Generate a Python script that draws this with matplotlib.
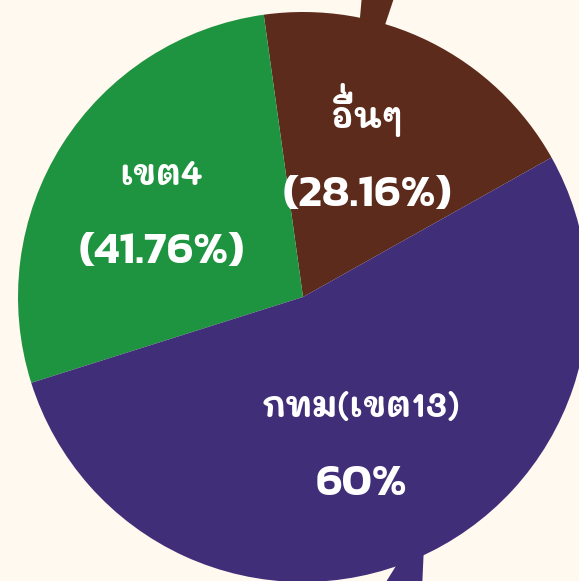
import matplotlib
matplotlib.use("Agg")
import numpy as np
import matplotlib.pyplot as plt
from matplotlib.patches import Polygon

names = ["อื่นๆ", "เขต4", "กทม(เขต13)"]
shown = ["(28.16%)", "(41.76%)", "60%"]
shares = [19.06, 27.67, 53.27]
colors = ["#5C2B1B", "#1F9440", "#412E78"]
bg = "#FFF9F0"
thai_font = ["Mali", "DejaVu Sans"]
num_font = ["Kanit", "DejaVu Sans"]

R = 285  # pie radius in pixels
fig = plt.figure(figsize=(5.79, 5.81), dpi=100, facecolor=bg)
ax = fig.add_axes([0, 0, 1, 1])
ax.set_facecolor(bg)

# pointer tails behind the pie (pixel coords from centre)
top_tail = [(59, 302), (92, 302), (77, 257), (55, 257)]
bot_tail = [(106, -248), (121, -248), (119, -293), (78, -293)]
ax.add_patch(Polygon(top_tail, closed=True, color=colors[0], lw=0, zorder=0))
ax.add_patch(Polygon(bot_tail, closed=True, color=colors[2], lw=0, zorder=0))

wedges, _ = ax.pie(shares, colors=colors, startangle=29.3, counterclock=True,
                   radius=R, center=(0, 0), wedgeprops=dict(linewidth=0))

ax.set_xlim(-303, 276)
ax.set_ylim(-284, 297)
ax.set_aspect("equal")
ax.axis("off")

# label spots: (radius fraction, angle offset from wedge middle)
spots = [(0.55, 2.0), (0.58, 0.9), (0.55, -1.6)]
for i, w in enumerate(wedges):
    mid = (w.theta1 + w.theta2) / 2 + spots[i][1]
    r = spots[i][0] * R
    cx, cy = r * np.cos(np.radians(mid)), r * np.sin(np.radians(mid))
    base = cy + 39 - 13
    ax.text(cx, base, names[i], color="white", ha="center", va="baseline",
            fontsize=25, fontweight="bold", family=thai_font)
    ax.text(cx, cy - 41, shown[i], color="white", ha="center", va="center",
            fontsize=33, fontweight=600, family=num_font)
    if i == 0:
        # matplotlib does not stack Thai tone marks over upper vowels,
        # so lift the mai ek of this label by hand
        ax.text(cx - 33, base + 11, " \u0E48", color="white", ha="left",
                va="baseline", fontsize=25, fontweight="bold", family=thai_font)

fig.savefig("out.png", facecolor=bg)
